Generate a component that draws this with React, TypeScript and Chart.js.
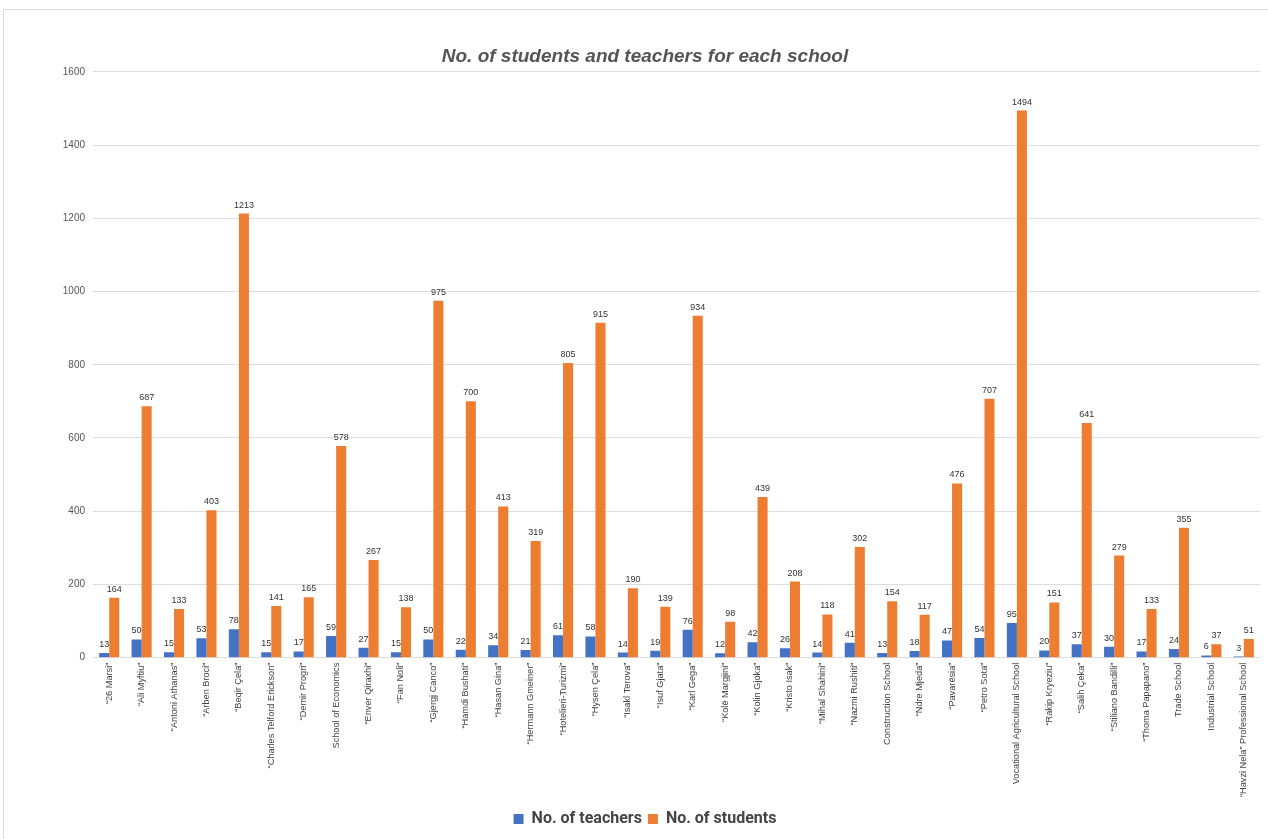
import React, { useEffect, useRef } from "react";
import { Chart, registerables } from "chart.js";

Chart.register(...registerables);

const schools: string[] = [
  "\u201c26 Marsi\u201d",
  "\u201cAli Myftiu\u201d",
  "\u201cAntoni Athanas\u201d",
  "\u201cArben Broci\u201d",
  "\u201cBeqir \u00c7ela\u201d",
  "\u201cCharles Telford Erickson\u201d",
  "\u201cDemir Progri\u201d",
  "School of Economics",
  "\u201cEnver Qiraxhi\u201d",
  "\u201cFan Noli\u201d",
  "\u201cGjergj Canco\u201d",
  "\u201cHamdi Bushati\u201d",
  "\u201cHasan Gina\u201d",
  "\u201cHermann Gmeiner\u201d",
  "\u201cHotelieri-Turizmi\u201d",
  "\u201cHysen \u00c7ela\u201d",
  "\u201cIsakl Terova\u201d",
  "\u201cIsuf Gjata\u201d",
  "\u201cKarl Gega\u201d",
  "\u201cKol\u00eb Margjini\u201d",
  "\u201cKolin Gjoka\u201d",
  "\u201cKristo Isak\u201d",
  "\u201cMihal Shahini\u201d",
  "\u201cNazmi Rushiti\u201d",
  "Construction School",
  "\u201cNdre Mjeda\u201d",
  "\u201cPavar\u00ebsia\u201d",
  "\u201cPetro Sota\u201d",
  "Vocational Agricultural School",
  "\u201cRakip Kryeziu\u201d",
  "\u201cSalih \u00c7eka\u201d",
  "\u201cStiliano Bandilli\u201d",
  "\u201cThoma Papapano\u201d",
  "Trade School",
  "Industrial School",
  "\u201cHavzi Nela\u201d Professional School",
];

const teachers: number[] = [
  13, 50, 15, 53, 78, 15, 17, 59, 27, 15, 50, 22, 34, 21, 61, 58, 14, 19, 76, 12,
  42, 26, 14, 41, 13, 18, 47, 54, 95, 20, 37, 30, 17, 24, 6, 3,
];

const students: number[] = [
  164, 687, 133, 403, 1213, 141, 165, 578, 267, 138, 975, 700, 413, 319, 805, 915,
  190, 139, 934, 98, 439, 208, 118, 302, 154, 117, 476, 707, 1494, 151, 641, 279,
  133, 355, 37, 51,
];

const yTicks: number[] = [0, 200, 400, 600, 800, 1000, 1200, 1400, 1600];

const valueLabels = {
  id: "valueLabels",
  afterDatasetsDraw(chart: any) {
    const ctx = chart.ctx;
    ctx.save();
    ctx.font = "9px 'Liberation Sans', Arial, sans-serif";
    ctx.fillStyle = "#333333";
    ctx.textAlign = "center";
    ctx.textBaseline = "bottom";
    chart.data.datasets.forEach((ds: any, i: number) => {
      const meta = chart.getDatasetMeta(i);
      meta.data.forEach((bar: any, j: number) => {
        ctx.fillText(String(ds.data[j]), bar.x, bar.y - 4);
      });
    });
    ctx.restore();
  },
};

export default function App() {
  const ref = useRef<HTMLCanvasElement | null>(null);

  useEffect(() => {
    if (!ref.current) return;
    const chart = new Chart(ref.current, {
      type: "bar",
      data: {
        labels: schools,
        datasets: [
          {
            label: "No. of teachers",
            data: teachers,
            backgroundColor: "#4472C4",
            categoryPercentage: 0.62,
            barPercentage: 1,
          },
          {
            label: "No. of students",
            data: students,
            backgroundColor: "#ED7D31",
            categoryPercentage: 0.62,
            barPercentage: 1,
          },
        ],
      },
      plugins: [valueLabels],
      options: {
        animation: false,
        responsive: false,
        maintainAspectRatio: false,
        layout: { padding: { left: 30, right: 8, top: 0, bottom: 2 } },
        plugins: {
          title: {
            display: true,
            text: "No. of students and teachers for each school",
            color: "#555555",
            font: {
              family: "'Liberation Sans', Arial, sans-serif",
              size: 19,
              weight: "bold",
              style: "italic",
            },
            padding: { top: 45, bottom: 4 },
          },
          legend: {
            position: "bottom",
            labels: {
              color: "#444444",
              boxWidth: 10,
              boxHeight: 10,
              padding: 6,
              font: { family: "Roboto, sans-serif", size: 16, weight: "bold" },
            },
          },
          tooltip: { enabled: false },
        },
        scales: {
          x: {
            grid: { display: false },
            border: { display: false },
            afterFit: (axis: any) => {
              axis.height = axis.height + 11;
            },
            ticks: {
              autoSkip: false,
              maxRotation: 90,
              minRotation: 90,
              padding: -3,
              color: "#444444",
              font: { family: "'Liberation Sans', Arial, sans-serif", size: 9.2 },
            },
          },
          y: {
            min: 0,
            max: 1600,
            afterBuildTicks: (axis: any) => {
              axis.ticks = yTicks.map((v) => ({ value: v }));
            },
            afterFit: (axis: any) => {
              axis.width = 63;
            },
            grid: { color: "#dddddd", drawTicks: false },
            border: { display: false },
            ticks: {
              padding: 8,
              color: "#555555",
              callback: (v: any) => String(v),
              font: { family: "'Liberation Sans', Arial, sans-serif", size: 10 },
            },
          },
        },
      },
    } as any);
    return () => chart.destroy();
  }, []);

  return (
    <div style={{ position: "fixed", left: 0, top: 0, width: 1268, height: 839, background: "#fff" }}>
      <div
        style={{
          position: "absolute",
          left: 3,
          top: 9,
          right: -2,
          bottom: -2,
          border: "1px solid #dcdcdc",
        }}
      />
      <canvas ref={ref} width={1268} height={839} style={{ position: "absolute", left: 0, top: 0 }} />
    </div>
  );
}
